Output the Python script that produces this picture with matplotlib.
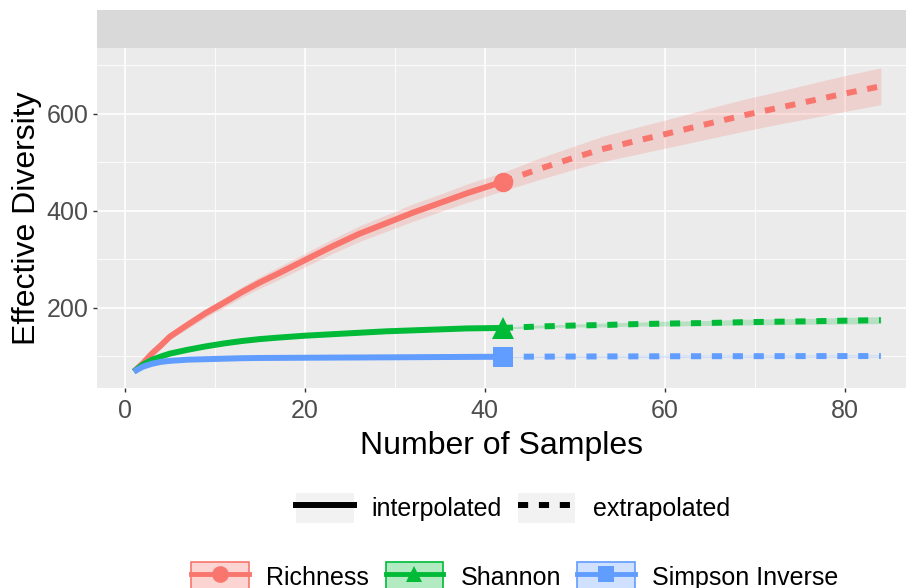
import matplotlib.pyplot as plt
import numpy as np
from matplotlib.lines import Line2D
from matplotlib.patches import Patch
from matplotlib.colors import to_rgba

plt.rcParams['font.family'] = ['Liberation Sans', 'DejaVu Sans']

# sample sizes (interpolated up to the reference sample, then extrapolated)
x_int = [1, 2, 3, 4, 5, 7, 9, 11, 13, 15, 17, 20, 23, 26, 29, 32, 35, 38, 42]
x_ext = [42, 46, 50, 53, 57, 60, 64, 69, 73, 77, 80, 84]

# Richness (q = 0)
rich_int = [68, 85, 105, 122, 140, 165, 189, 210, 232, 252, 270, 298, 326, 352, 374, 396, 416, 436, 460]
rich_int_lo = [68, 82, 100, 116, 134, 157, 180, 200, 221, 240, 257, 284, 311, 336, 357, 378, 398, 417, 441]
rich_int_hi = [68, 88, 110, 128, 146, 173, 198, 220, 243, 264, 283, 312, 341, 368, 391, 414, 434, 455, 479]
rich_ext = [460, 486, 510, 527, 545, 558, 576, 598, 614, 630, 642, 657]
rich_ext_lo = [441, 464, 486, 501, 517, 529, 545, 565, 580, 594, 605, 619]
rich_ext_hi = [479, 508, 534, 553, 573, 587, 607, 631, 648, 666, 679, 695]

# Shannon (q = 1)
shan_int = [68, 82, 92, 99, 105, 113, 120, 126, 131, 135, 138, 142, 145, 148, 151, 153, 155, 157, 158]
shan_int_lo = [68, 81, 91, 98, 104, 112, 119, 125, 130, 134, 137, 141, 144, 146, 149, 151, 153, 155, 156]
shan_int_hi = [68, 83, 93, 100, 106, 114, 121, 127, 132, 136, 139, 143, 146, 150, 153, 155, 157, 159, 160]
shan_ext = [158, 161, 163, 164, 166, 167, 168, 170, 171, 172, 173, 174]
shan_ext_lo = [156, 158, 160, 160, 162, 162, 163, 164, 165, 166, 166, 167]
shan_ext_hi = [160, 164, 166, 168, 170, 172, 173, 176, 177, 178, 180, 181]

# Simpson inverse (q = 2)
simp_int = [68, 78, 84, 88, 90, 92.5, 93.5, 94.5, 95.5, 96, 96.2, 96.5, 96.8, 97, 97.3, 97.6, 97.9, 98.2, 98.5]
simp_int_lo = [68, 77, 83, 87, 89, 91.5, 92.5, 93.3, 94.3, 94.7, 94.9, 95.1, 95.4, 95.6, 95.8, 96.1, 96.3, 96.6, 96.8]
simp_int_hi = [68, 79, 85, 89, 91, 93.5, 94.5, 95.7, 96.7, 97.3, 97.5, 97.9, 98.2, 98.4, 98.8, 99.1, 99.5, 99.8, 100.2]
simp_ext = [98.5, 98.8, 99, 99.2, 99.3, 99.5, 99.6, 99.7, 99.8, 99.9, 99.9, 100]
simp_ext_lo = [96.8, 96.9, 97, 97.1, 97.1, 97.2, 97.2, 97.2, 97.3, 97.3, 97.3, 97.3]
simp_ext_hi = [100.2, 100.7, 101, 101.3, 101.5, 101.8, 102, 102.2, 102.3, 102.5, 102.5, 102.7]

labels = ['Richness', 'Shannon', 'Simpson Inverse']
colors = ['#F8766D', '#00BA38', '#619CFF']
markers = ['o', '^', 's']
msizes = [14, 16, 14]

series = [
    (rich_int, rich_int_lo, rich_int_hi, rich_ext, rich_ext_lo, rich_ext_hi),
    (shan_int, shan_int_lo, shan_int_hi, shan_ext, shan_ext_lo, shan_ext_hi),
    (simp_int, simp_int_lo, simp_int_hi, simp_ext, simp_ext_lo, simp_ext_hi),
]

lw = 4.3
dash = (0, (1.7, 1.8))

fig = plt.figure(figsize=(9.06, 5.88), dpi=100)
W, H = 906, 588
ax = fig.add_axes([97 / W, 1 - 388 / H, 809 / W, 340 / H])

# empty facet strip above the panel
strip = fig.add_axes([97 / W, 1 - 48 / H, 809 / W, 38 / H])
strip.set_facecolor('#D9D9D9')
strip.set_xticks([])
strip.set_yticks([])
for s in strip.spines.values():
    s.set_visible(False)

ax.set_facecolor('#EBEBEB')
for s in ax.spines.values():
    s.set_visible(False)

# ribbons first
for (yi, yil, yih, ye, yel, yeh), c in zip(series, colors):
    ax.fill_between(x_int, yil, yih, color=c, alpha=0.22, lw=0, zorder=2)
    ax.fill_between(x_ext, yel, yeh, color=c, alpha=0.22, lw=0, zorder=2)

for (yi, yil, yih, ye, yel, yeh), c, m, ms in zip(series, colors, markers, msizes):
    ax.plot(x_int, yi, color=c, lw=lw, solid_capstyle='butt', zorder=3)
    ax.plot(x_ext, ye, color=c, lw=lw, linestyle=dash, dash_capstyle='butt', zorder=3)
    ax.plot([x_int[-1]], [yi[-1]], marker=m, color=c, markersize=ms, mew=0, zorder=4)

ax.set_xlim(-3.1, 86.8)
ax.set_ylim(34, 736)
ax.set_xticks([0, 20, 40, 60, 80])
ax.set_yticks([200, 400, 600])
ax.set_xticks([10, 30, 50, 70], minor=True)
ax.set_yticks([100, 300, 500, 700], minor=True)
ax.grid(which='major', color='white', lw=1.2, zorder=1)
ax.grid(which='minor', color='white', lw=0.6, zorder=1)
ax.set_axisbelow(True)
ax.tick_params(which='major', length=3, width=1.0, color='#333333',
               labelcolor='#4D4D4D', labelsize=18, pad=3)
ax.tick_params(axis='x', which='major', pad=5)
ax.tick_params(which='minor', length=0)

ax.set_xlabel('Number of Samples', fontsize=23, labelpad=6)
ax.set_ylabel('Effective Diversity', fontsize=23, labelpad=3)

# linetype legend
key_bg = '#F2F2F2'
lt_handles = [
    (Patch(facecolor=key_bg, edgecolor='none'), Line2D([], [], color='black', lw=lw)),
    (Patch(facecolor=key_bg, edgecolor='none'),
     Line2D([], [], color='black', lw=lw, linestyle=dash, dash_capstyle='butt')),
]
fig.legend(lt_handles, ['interpolated', 'extrapolated'], loc='center',
           bbox_to_anchor=(513 / W, 1 - 508 / H), ncol=2, frameon=False,
           fontsize=18, handlelength=2.3, handleheight=1.45,
           handletextpad=0.7, columnspacing=0.65)

# colour legend
col_handles = []
for c, m in zip(colors, markers):
    col_handles.append((
        Patch(facecolor=to_rgba(c, 0.3), edgecolor=c, lw=1.2),
        Line2D([], [], color=c, lw=3.5, marker=m, markersize=12, mew=0),
    ))
fig.legend(col_handles, labels, loc='center',
           bbox_to_anchor=(515 / W, 1 - 577 / H), ncol=3, frameon=False,
           fontsize=18, handlelength=2.3, handleheight=1.45,
           handletextpad=0.7, columnspacing=0.65)

fig.savefig('out.png', dpi=100)
